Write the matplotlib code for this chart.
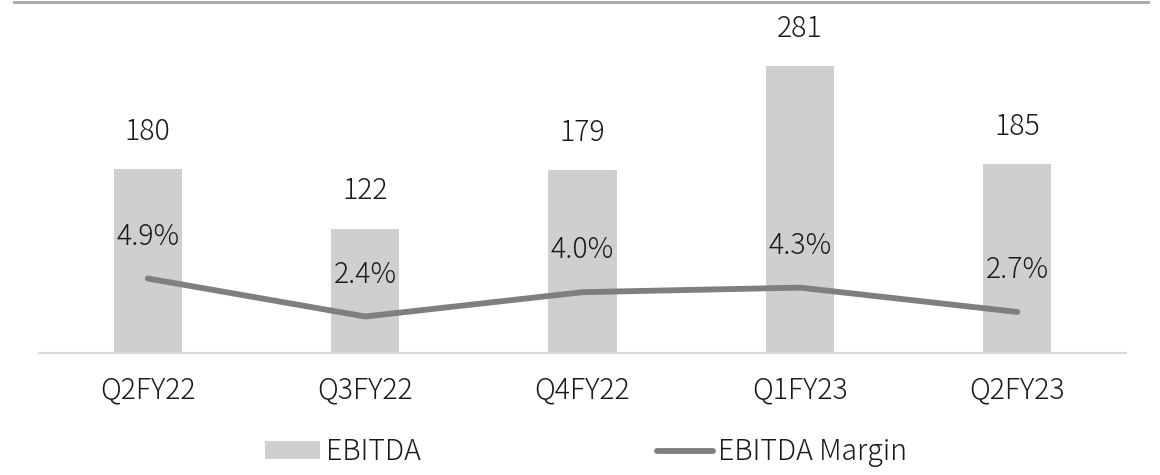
import matplotlib
matplotlib.use("Agg")
import matplotlib.pyplot as plt
from matplotlib.lines import Line2D

plt.rcParams['font.family'] = ['Noto Sans CJK JP', 'DejaVu Sans']
plt.rcParams['font.weight'] = 'light'

quarters = ["Q2FY22", "Q3FY22", "Q4FY22", "Q1FY23", "Q2FY23"]
ebitda = [180, 122, 179, 281, 185]
margin = [4.9, 2.4, 4.0, 4.3, 2.7]  # percent

bar_colour = "#d0cece"
line_colour = "#7f7f7f"
text_colour = "#1a1a1a"
fs = 20.5

fig = plt.figure(figsize=(11.6, 4.75), dpi=100)
W, H = 1160, 475
left, right, top, bottom = 39, 1126, 20, 353
ax = fig.add_axes([left / W, 1 - bottom / H, (right - left) / W, (bottom - top) / H])

x = list(range(len(quarters)))
bars = ax.bar(x, ebitda, width=0.313, color=bar_colour, zorder=1)
ax.set_xlim(-0.5, len(quarters) - 0.5)
ax.set_ylim(0, 326.5)

for xi, v in zip(x, ebitda):
    ax.annotate(str(v), (xi, v), xytext=(0, 38), textcoords="offset pixels",
                ha="center", va="center", fontsize=fs, color=text_colour)

ax2 = ax.twinx()
ax2.plot(x, [m / 100 for m in margin], color=line_colour, lw=4.2,
         solid_capstyle="round", solid_joinstyle="round", zorder=3)
ax2.set_ylim(0, 0.219)
for xi, m in zip(x, margin):
    ax2.annotate(f"{m:.1f}%", (xi, m / 100), xytext=(0, 42), textcoords="offset pixels",
                 ha="center", va="center", fontsize=fs, color=text_colour)

for a in (ax, ax2):
    for s in ("top", "left", "right"):
        a.spines[s].set_visible(False)
    a.set_yticks([])
ax2.spines["bottom"].set_visible(False)
ax.spines["bottom"].set_color("#d9d9d9")
ax.spines["bottom"].set_linewidth(1.5)
ax.set_xticks(x)
ax.set_xticklabels(quarters, fontsize=fs, color=text_colour)
ax.tick_params(axis="x", length=0, pad=16)

# rule across the top of the figure
fig.add_artist(Line2D([14 / W, 1148 / W], [1 - 1.5 / H, 1 - 1.5 / H],
                      color="#a6a6a6", lw=2, transform=fig.transFigure))

handles = [bars, Line2D([], [], color=line_colour, lw=4.2, solid_capstyle="round")]
fig.legend(handles, ["EBITDA", "EBITDA Margin"], loc="center",
           bbox_to_anchor=(586 / W, 1 - 452 / H), ncol=2, frameon=False,
           fontsize=fs, handlelength=1.95, handleheight=0.6, handletextpad=0.2,
           columnspacing=8.3, borderpad=0, labelcolor=text_colour)

fig.savefig("out.png", dpi=100)
